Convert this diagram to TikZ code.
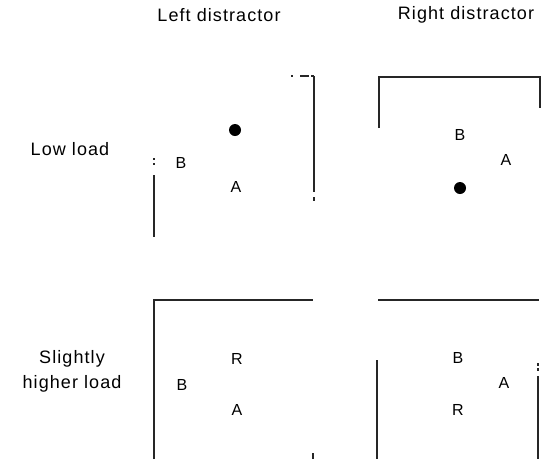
\documentclass[tikz,border=0pt]{standalone}
\usepackage{fontspec}
\setmainfont{Liberation Sans}[LetterSpace=6]
\begin{document}
\begin{tikzpicture}[x=1pt,y=-1pt,
  lbl/.style={font=\fontsize{18}{25}\selectfont, inner sep=0pt, align=center},
  ltr/.style={font=\fontsize{16}{18}\selectfont, inner sep=0pt},
  wall/.style={line width=1.3pt, draw=black!85},
  blob/.style={circle, fill=black, inner sep=0pt, minimum size=12pt}]
\useasboundingbox (0,0) rectangle (548,459);
% headers
\node[lbl] (hl) at (219,15) {Left distractor};
\node[lbl] (hr) at (466,15) {Right distractor};
\node[lbl] (r1) at (70,149) {Low load};
\node[lbl] (r2) at (72,371) {Slightly\\higher load};
% panel 1
\draw[wall] (154,175) -- (154,237);
\draw[wall] (154,158) -- (154,160);
\draw[wall] (154,163) -- (154,165);
\draw[wall] (314,76) -- (314,192);
\draw[wall] (314,197) -- (314,201);
\draw[wall] (291,76) -- (293,76);
\draw[wall] (300,76) -- (309,76);
\draw[wall] (311,76) -- (314,76);
\node[blob] (d1) at (235,130) {};
\node[ltr] (b1) at (181,163) {B};
\node[ltr] (a1) at (236,187) {A};
% panel 2
\draw[wall] (379,128) -- (379,77) -- (540,77) -- (540,108);
\node[ltr] (b2) at (460,135) {B};
\node[ltr] (a2) at (506,160) {A};
\node[blob] (d2) at (460,188) {};
% panel 3
\draw[wall] (154,459) -- (154,300) -- (313,300);
\draw[wall] (313,453) -- (313,459);
\node[ltr] (r3) at (237,359) {R};
\node[ltr] (b3) at (182,385) {B};
\node[ltr] (a3) at (237,410) {A};
% panel 4
\draw[wall] (378,300) -- (539,300);
\draw[wall] (377,360) -- (377,459);
\draw[wall] (538,363) -- (538,366);
\draw[wall] (538,368) -- (538,371);
\draw[wall] (538,376) -- (538,459);
\node[ltr] (b4) at (458,358) {B};
\node[ltr] (a4) at (504,383) {A};
\node[ltr] (r4) at (458,410) {R};
\end{tikzpicture}
\end{document}
